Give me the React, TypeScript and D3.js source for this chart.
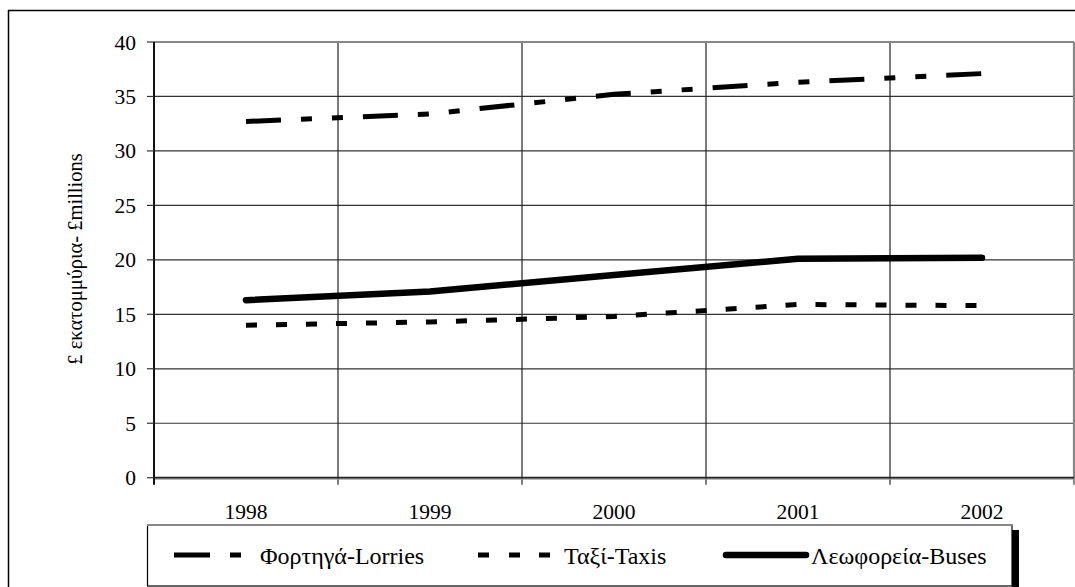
import React from "react";
import * as d3 from "d3";

const years = ["1998", "1999", "2000", "2001", "2002"];
const lorries = [32.7, 33.4, 35.2, 36.3, 37.1];
const taxis = [14.0, 14.3, 14.8, 15.9, 15.8];
const buses = [16.3, 17.1, 18.6, 20.1, 20.2];
const yTicks = [0, 5, 10, 15, 20, 25, 30, 35, 40];
const yLabel = "£ εκατομμύρια- £millions";
const legendNames = ["Φορτηγά-Lorries", "Ταξί-Taxis", "Λεωφορεία-Buses"];

const W = 1075;
const H = 587;
const plot = { left: 154, right: 1074, top: 42, bottom: 477.7 };
const FONT = '"Liberation Serif", "Times New Roman", Times, serif';

export default function App() {
  const x = d3.scaleBand<string>().domain(years).range([plot.left, plot.right]).padding(0);
  const y = d3.scaleLinear().domain([0, 40]).range([plot.bottom, plot.top]);
  const cx = (d: string) => (x(d) as number) + x.bandwidth() / 2;
  const line = d3
    .line<number>()
    .x((_, i) => cx(years[i]))
    .y((v) => y(v));

  const gridX = years.map((d) => x(d) as number).slice(1);
  const ts = { fontFamily: FONT };

  const legendY = 556;
  return (
    <svg
      width={W}
      height={H}
      style={{ position: "absolute", left: 0, top: 0, display: "block", background: "#fff", fontFamily: FONT }}
    >
      <rect x={0} y={0} width={W} height={H} fill="#fff" />
      {/* outer frame */}
      <line x1={8} y1={10.5} x2={W} y2={10.5} stroke="#000" strokeWidth={1.5} />
      <line x1={8.5} y1={10} x2={8.5} y2={H} stroke="#000" strokeWidth={1.5} />

      {/* horizontal gridlines */}
      {yTicks.slice(1, -1).map((t) => (
        <line key={"h" + t} x1={plot.left} x2={plot.right} y1={y(t)} y2={y(t)} stroke="#333" strokeWidth={1.2} />
      ))}
      {/* vertical gridlines */}
      {gridX.map((gx, i) => (
        <line key={"v" + i} x1={gx} x2={gx} y1={plot.top} y2={plot.bottom + 7} stroke="#222" strokeWidth={1.2} />
      ))}
      {/* top & right border (gray) */}
      <line x1={plot.left} x2={plot.right} y1={plot.top} y2={plot.top} stroke="#888" strokeWidth={2.2} />
      <line x1={plot.right} x2={plot.right} y1={plot.top} y2={plot.bottom + 7} stroke="#888" strokeWidth={2.2} />
      {/* axes */}
      <line x1={plot.left} x2={plot.right} y1={plot.bottom} y2={plot.bottom} stroke="#222" strokeWidth={2} />
      <line x1={plot.left} x2={plot.right} y1={plot.bottom + 1.5} y2={plot.bottom + 1.5} stroke="#999" strokeWidth={1} />
      <line x1={plot.left} x2={plot.left} y1={plot.top} y2={plot.bottom + 7} stroke="#111" strokeWidth={2} />
      {yTicks.map((t) => (
        <g key={"yt" + t}>
          <line x1={plot.left - 7} x2={plot.left} y1={y(t)} y2={y(t)} stroke="#333" strokeWidth={1.2} />
          <text x={136} y={y(t)} dy="0.35em" textAnchor="end" fontSize={21.5} style={ts}>
            {t}
          </text>
        </g>
      ))}
      {years.map((d) => (
        <text key={"xt" + d} x={cx(d)} y={518.5} textAnchor="middle" fontSize={21.5} style={ts}>
          {d}
        </text>
      ))}
      <text transform="translate(82, 259) rotate(-90)" textAnchor="middle" fontSize={20.5} style={ts}>
        {yLabel}
      </text>

      {/* series */}
      <path d={line(lorries) || ""} fill="none" stroke="#000" strokeWidth={5} strokeDasharray="35,20,11,20,11,20" />
      <path d={line(taxis) || ""} fill="none" stroke="#000" strokeWidth={5} strokeDasharray="11,19" />
      <path d={line(buses) || ""} fill="none" stroke="#000" strokeWidth={6.5} strokeLinecap="round" strokeLinejoin="round" />

      {/* legend */}
      <rect x={1012} y={530} width={7} height={H - 530} fill="#000" />
      <rect x={147.5} y={525} width={864.5} height={61} fill="#fff" stroke="#000" strokeWidth={1.2} />
      <line x1={147} x2={1012.5} y1={525} y2={525} stroke="#888" strokeWidth={2} />
      <line x1={174} x2={210} y1={legendY - 1} y2={legendY - 1} stroke="#000" strokeWidth={5} />
      <line x1={230} x2={241} y1={legendY - 1} y2={legendY - 1} stroke="#000" strokeWidth={5} />
      <text x={260} y={legendY + 8} fontSize={24} style={ts}>{legendNames[0]}</text>
      {[478, 509, 539].map((lx) => (
        <line key={"tl" + lx} x1={lx} x2={lx + 11} y1={legendY - 1} y2={legendY - 1} stroke="#000" strokeWidth={5} />
      ))}
      <text x={564} y={legendY + 8} fontSize={24} style={ts}>{legendNames[1]}</text>
      <line x1={726} x2={806} y1={legendY - 1} y2={legendY - 1} stroke="#000" strokeWidth={6.5} strokeLinecap="round" />
      <text x={811} y={legendY + 8} fontSize={24} style={ts}>{legendNames[2]}</text>
    </svg>
  );
}
